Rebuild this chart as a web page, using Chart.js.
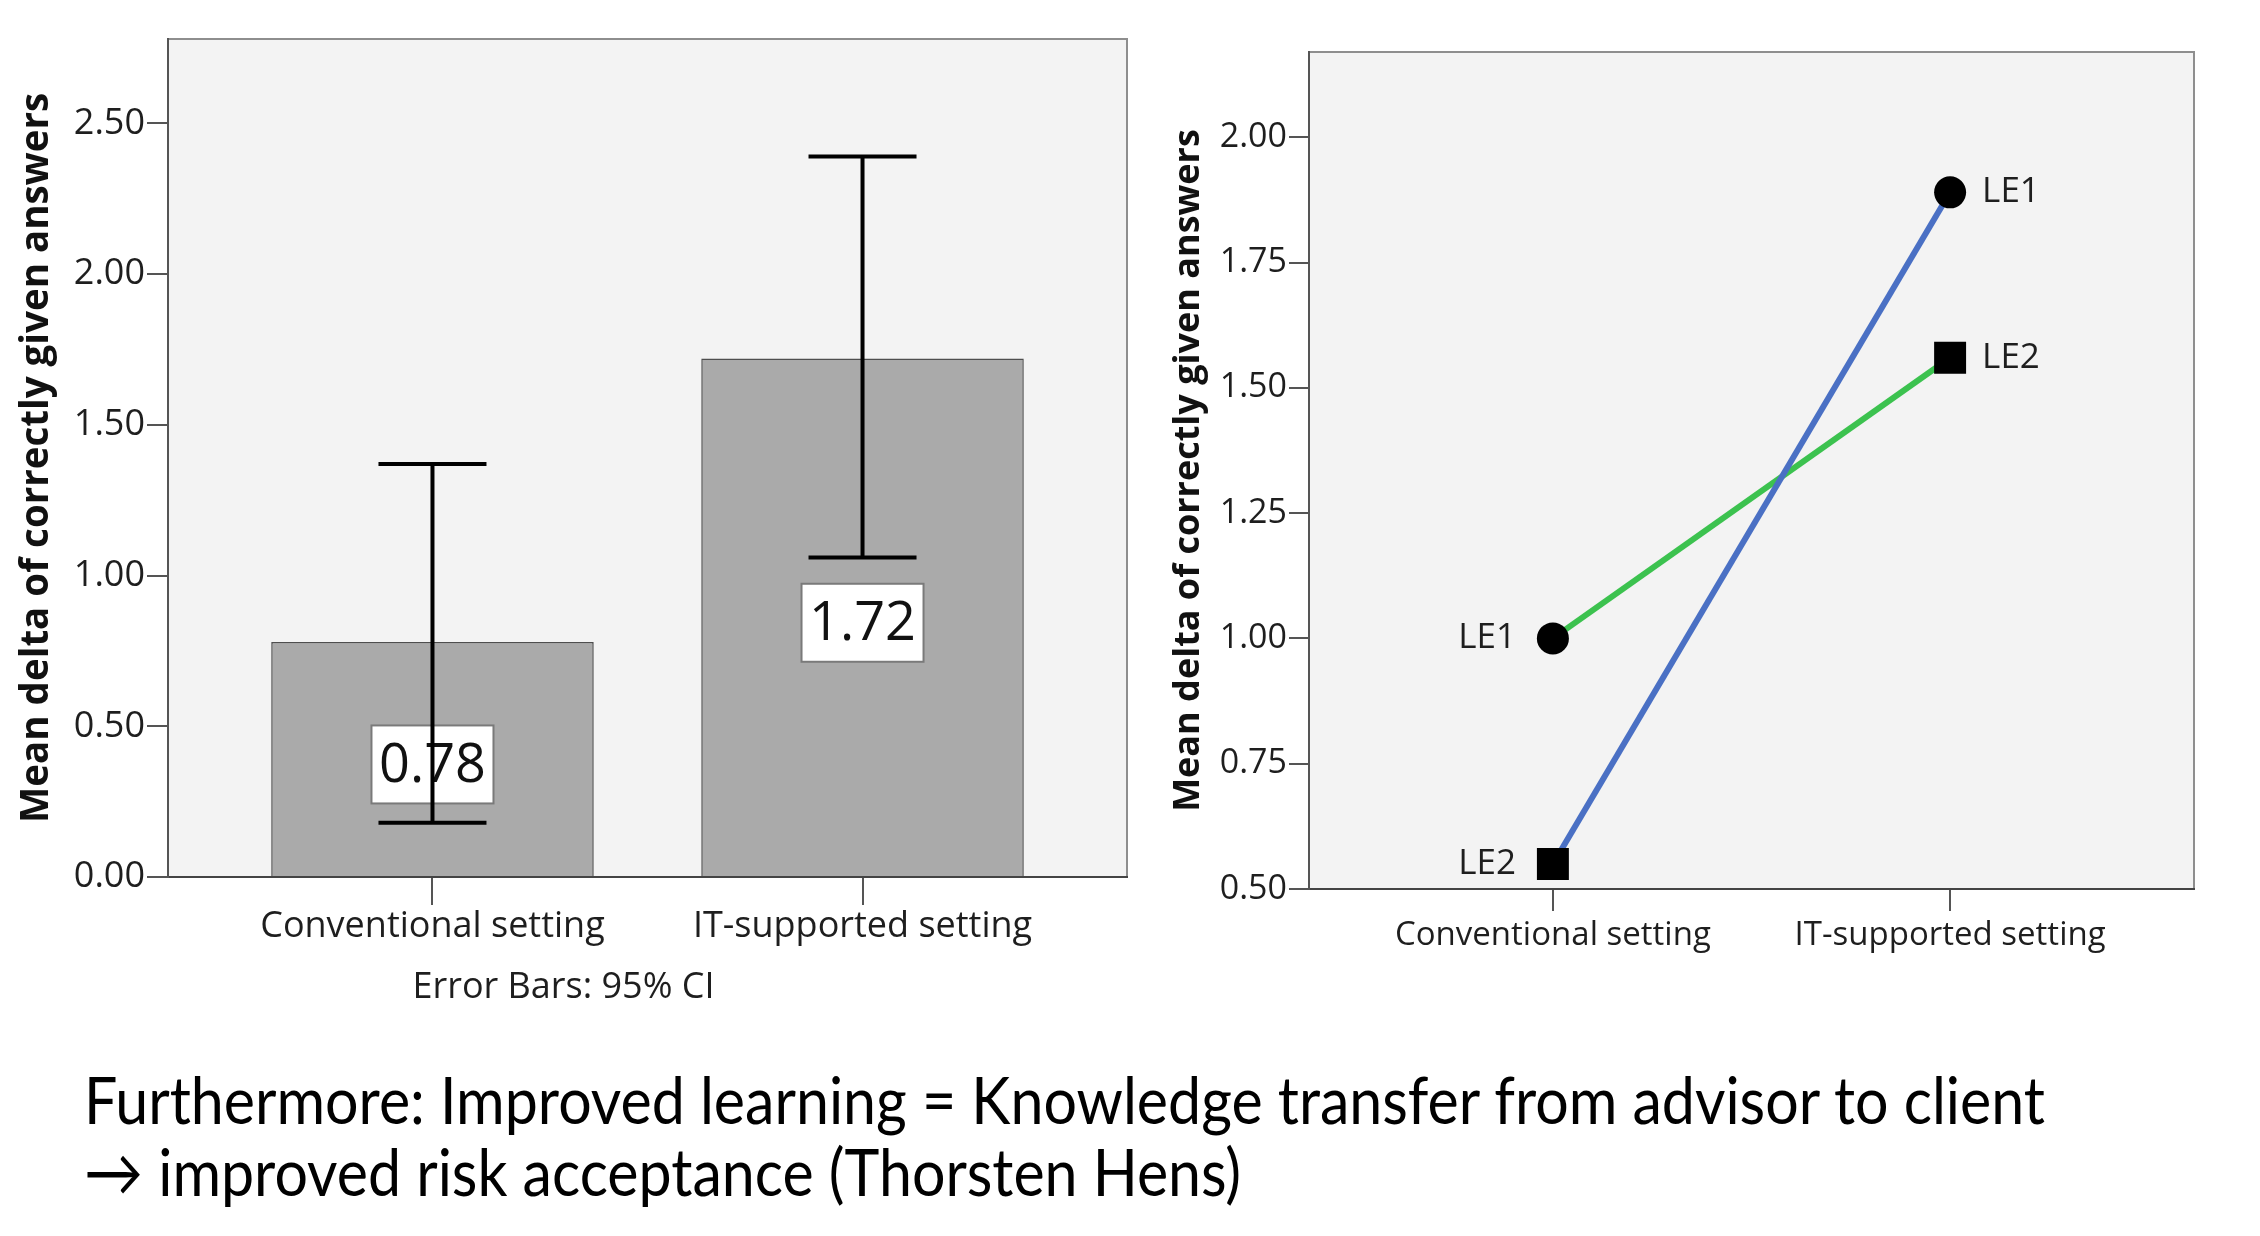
<!DOCTYPE html>
<html>
<head>
<meta charset="utf-8">
<script src="https://cdn.jsdelivr.net/npm/chart.js@4.4.0/dist/chart.umd.min.js"></script>
<style>
  html, body { margin: 0; padding: 0; background: #fff; }
  body { width: 2260px; height: 1236px; position: relative; overflow: hidden; }
  #barWrap { position: absolute; left: 0; top: 0; width: 1130px; height: 1040px; }
  #lineWrap { position: absolute; left: 1130px; top: 0; width: 1130px; height: 1000px; }
  #caption {
    position: absolute; left: 84px; top: 1063px;
    font-family: Lato, "Open Sans", sans-serif; font-size: 66px; line-height: 72px;
    color: #000; white-space: nowrap; transform-origin: left top;
  }
</style>
</head>
<body>
<div id="barWrap"><canvas id="barChart"></canvas></div>
<div id="lineWrap"><canvas id="lineChart"></canvas></div>
<div id="caption">
  <div id="cap1">Furthermore: Improved learning = Knowledge transfer from advisor to client</div>
  <div id="cap2">→ improved risk acceptance (Thorsten Hens)</div>
</div>
<script>
// ---- data ----
const categories = ["Conventional setting", "IT-supported setting"];

// left: bar chart with 95% CI
const barMeans = [0.78, 1.72];
const ciLower = [0.18, 1.06];
const ciUpper = [1.37, 2.39];
const barTicks = [0, 0.5, 1, 1.5, 2, 2.5];

// right: line plot
const lineTicks = [0.5, 0.75, 1, 1.25, 1.5, 1.75, 2];
const greenValues = [1.00, 1.56];
const greenMarkers = ["circle", "rect"];
const greenLabels = ["LE1", "LE2"];
const blueValues = [0.55, 1.89];
const blueMarkers = ["rect", "circle"];
const blueLabels = ["LE2", "LE1"];

const yTitle = "Mean delta of correctly given answers";
const FONT = "'Open Sans', 'DejaVu Sans', sans-serif";
const TEXT = "#1e1e1e";

// grey plot area with a frame
const plotFrame = {
    id: "plotFrame",
    beforeDraw(chart) {
        const a = chart.chartArea, ctx = chart.ctx;
        ctx.save();
        ctx.fillStyle = "#f3f3f3";
        ctx.fillRect(a.left, a.top, a.right - a.left, a.bottom - a.top);
        ctx.strokeStyle = "#8e8e8e";
        ctx.lineWidth = 2;
        ctx.beginPath();
        ctx.moveTo(a.left, a.top);
        ctx.lineTo(a.right, a.top);
        ctx.lineTo(a.right, a.bottom);
        ctx.stroke();
        ctx.restore();
    }
};

// value boxes + error bars
const errorBars = {
    id: "errorBars",
    afterDatasetsDraw(chart) {
        const ctx = chart.ctx, xs = chart.scales.x, ys = chart.scales.y;
        ctx.save();
        barMeans.forEach((m, i) => {
            const x = xs.getPixelForValue(i);
            const yc = ys.getPixelForValue(m / 2) + 5;
            ctx.fillStyle = "#fff";
            ctx.fillRect(x - 61, yc - 39, 122, 78);
            ctx.strokeStyle = "#7a7a7a";
            ctx.lineWidth = 2;
            ctx.strokeRect(x - 61, yc - 39, 122, 78);
            ctx.fillStyle = "#111";
            ctx.font = "54px " + FONT;
            ctx.textAlign = "center";
            ctx.textBaseline = "middle";
            ctx.fillText(m.toFixed(2), x, yc + 2);

            const lo = ys.getPixelForValue(ciLower[i]);
            const hi = ys.getPixelForValue(ciUpper[i]);
            ctx.strokeStyle = "#000";
            ctx.lineWidth = 4;
            ctx.beginPath();
            ctx.moveTo(x, lo); ctx.lineTo(x, hi);
            ctx.moveTo(x - 54, lo); ctx.lineTo(x + 54, lo);
            ctx.moveTo(x - 54, hi); ctx.lineTo(x + 54, hi);
            ctx.stroke();
        });
        ctx.restore();
    }
};

// LE1 / LE2 labels beside the markers
const pointNames = {
    id: "pointNames",
    afterDatasetsDraw(chart) {
        const ctx = chart.ctx;
        ctx.save();
        ctx.font = "35px " + FONT;
        ctx.fillStyle = TEXT;
        ctx.textBaseline = "middle";
        chart.data.datasets.forEach((ds, d) => {
            chart.getDatasetMeta(d).data.forEach((pt, i) => {
                if (i === 0) {
                    ctx.textAlign = "right";
                    ctx.fillText(ds.pointLabels[i], pt.x - 37, pt.y);
                } else {
                    ctx.textAlign = "left";
                    ctx.fillText(ds.pointLabels[i], pt.x + 32, pt.y);
                }
            });
        });
        ctx.restore();
    }
};

function axisGrid(len) {
    return { drawOnChartArea: false, drawTicks: true, tickLength: len, color: "#555", lineWidth: 2, offset: false };
}

// =========================
// LEFT: BAR CHART
// =========================
new Chart(document.getElementById("barChart"), {
    type: "bar",
    data: {
        datasets: [{
            data: barMeans.map((v, i) => ({ x: i, y: v })),
            backgroundColor: "#aaaaaa",
            borderColor: "#4e4e4e",
            borderWidth: 1.5,
            barPercentage: 0.75,
            categoryPercentage: 1.0
        }]
    },
    options: {
        responsive: true,
        maintainAspectRatio: false,
        animation: false,
        layout: { padding: { top: 39, right: 3, left: 0, bottom: 0 } },
        plugins: {
            legend: { display: false },
            tooltip: { enabled: false },
            title: {
                display: true,
                position: "bottom",
                text: "Error Bars: 95% CI",
                color: TEXT,
                font: { family: FONT, size: 36, weight: "normal" },
                padding: { top: 0, bottom: 31 }
            }
        },
        scales: {
            x: {
                type: "linear",
                offset: false,
                min: -0.615,
                max: 1.615,
                afterBuildTicks: ax => { ax.ticks = categories.map((c, i) => ({ value: i })); },
                afterFit: ax => { ax.height = 88.8; },
                grid: axisGrid(28),
                border: { display: true, color: "#444", width: 2 },
                ticks: {
                    autoSkip: false,
                    maxRotation: 0,
                    padding: 0,
                    color: TEXT,
                    font: { family: FONT, size: 36 },
                    callback: v => categories[v]
                }
            },
            y: {
                min: 0,
                max: 2.78,
                afterBuildTicks: ax => { ax.ticks = barTicks.map(v => ({ value: v })); },
                afterFit: ax => { ax.width = 168; },
                grid: axisGrid(21),
                border: { display: true, color: "#555", width: 2 },
                ticks: {
                    padding: 2,
                    color: TEXT,
                    font: { family: FONT, size: 36 },
                    callback: v => v.toFixed(2)
                },
                title: {
                    display: true,
                    text: yTitle,
                    color: "#111",
                    font: { family: FONT, size: 38.5, weight: "bold" },
                    padding: { top: 14, bottom: 0 }
                }
            }
        }
    },
    plugins: [plotFrame, errorBars]
});

// =========================
// RIGHT: LINE PLOT
// =========================
const markerSize = m => (m === "rect" ? 22.6 : 16);

new Chart(document.getElementById("lineChart"), {
    type: "line",
    data: {
        datasets: [
            {
                data: blueValues.map((v, i) => ({ x: i, y: v })),
                borderColor: "#4a70c4",
                borderWidth: 6,
                pointStyle: blueMarkers,
                pointRadius: blueMarkers.map(markerSize),
                pointHoverRadius: blueMarkers.map(markerSize),
                pointBackgroundColor: "#000",
                pointBorderWidth: 0,
                pointLabels: blueLabels
            },
            {
                data: greenValues.map((v, i) => ({ x: i, y: v })),
                borderColor: "#3cc24f",
                borderWidth: 6,
                pointStyle: greenMarkers,
                pointRadius: greenMarkers.map(markerSize),
                pointHoverRadius: greenMarkers.map(markerSize),
                pointBackgroundColor: "#000",
                pointBorderWidth: 0,
                pointLabels: greenLabels
            }
        ]
    },
    options: {
        responsive: true,
        maintainAspectRatio: false,
        animation: false,
        layout: { padding: { top: 52, right: 66, left: 0, bottom: 0 } },
        plugins: {
            legend: { display: false },
            tooltip: { enabled: false }
        },
        scales: {
            x: {
                type: "linear",
                min: -0.614,
                max: 1.614,
                afterBuildTicks: ax => { ax.ticks = categories.map((c, i) => ({ value: i })); },
                afterFit: ax => { ax.height = 111; },
                grid: axisGrid(22),
                border: { display: true, color: "#444", width: 2 },
                ticks: {
                    autoSkip: false,
                    maxRotation: 0,
                    padding: 5,
                    color: TEXT,
                    font: { family: FONT, size: 33 },
                    callback: v => categories[v]
                }
            },
            y: {
                min: 0.5,
                max: 2.17,
                afterBuildTicks: ax => { ax.ticks = lineTicks.map(v => ({ value: v })); },
                afterFit: ax => { ax.width = 179; },
                grid: axisGrid(20),
                border: { display: true, color: "#555", width: 2 },
                ticks: {
                    padding: 2,
                    color: TEXT,
                    font: { family: FONT, size: 34 },
                    callback: v => v.toFixed(2)
                },
                title: {
                    display: true,
                    text: yTitle,
                    color: "#111",
                    font: { family: FONT, size: 36, weight: "bold" },
                    padding: { top: 37, bottom: 0 }
                }
            }
        }
    },
    plugins: [plotFrame, pointNames]
});

// squeeze the caption to the width of the original slide text
const cap = document.getElementById("caption");
const w1 = document.getElementById("cap1").getBoundingClientRect().width;
cap.style.transform = "scaleX(" + (1961 / w1) + ")";
</script>
</body>
</html>
